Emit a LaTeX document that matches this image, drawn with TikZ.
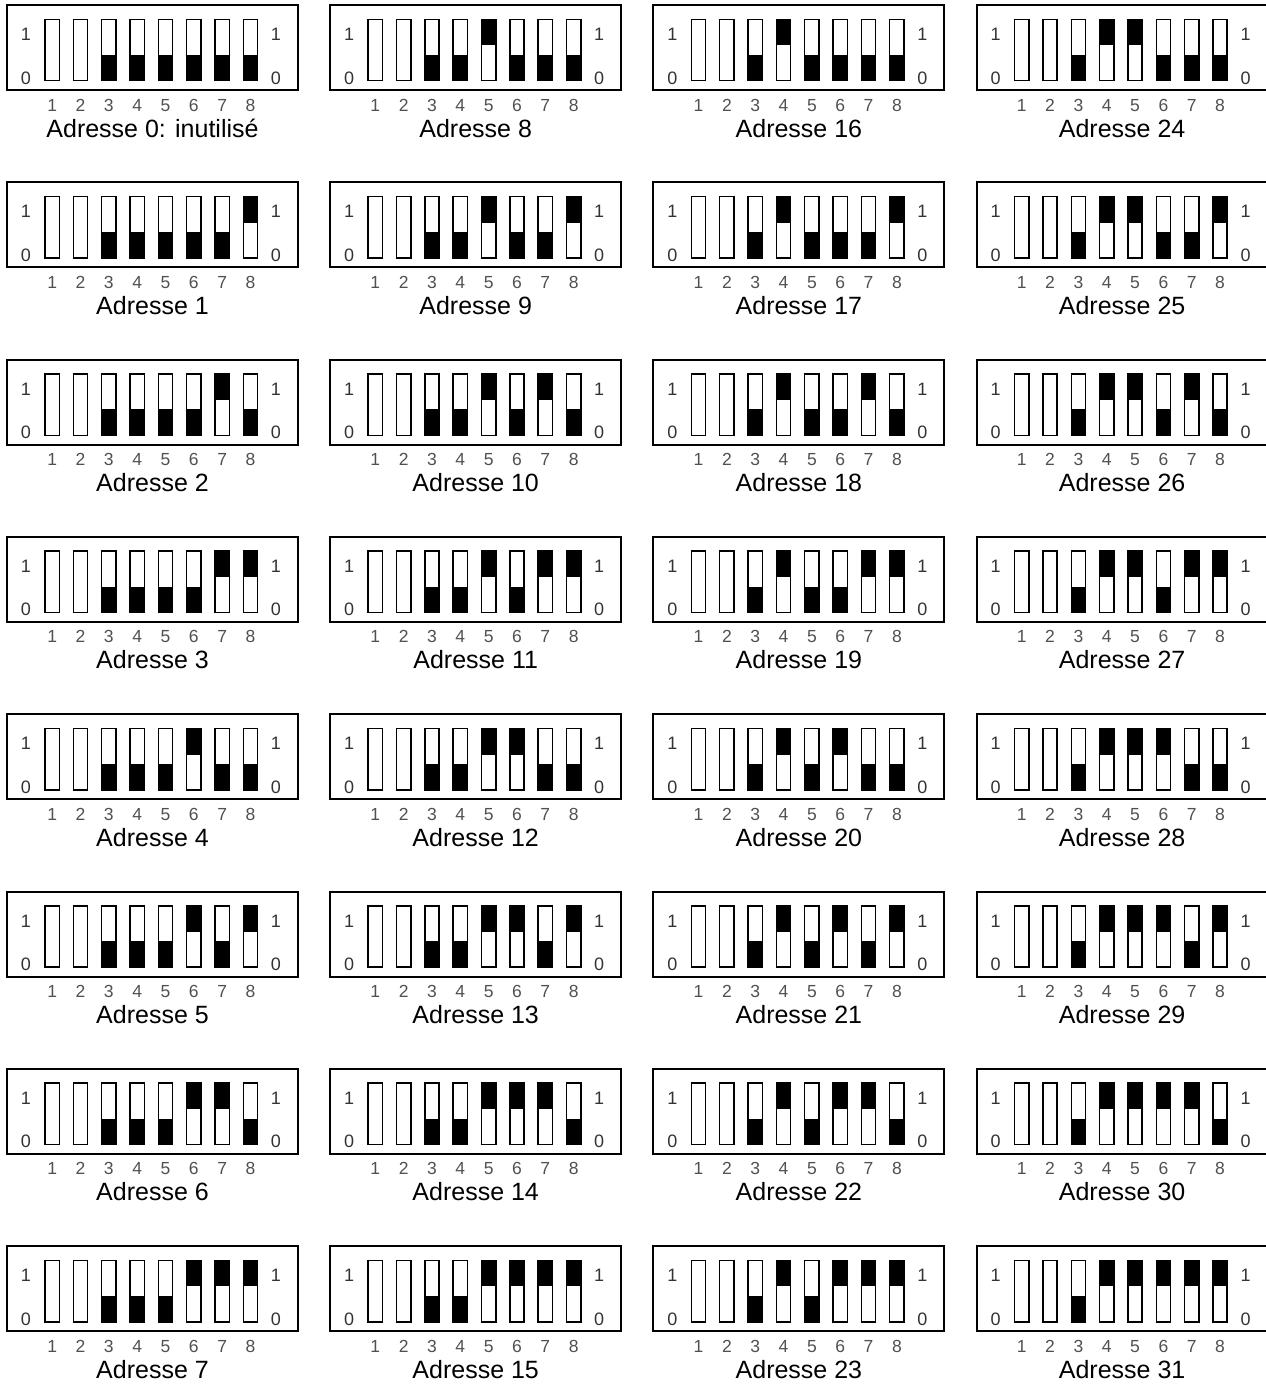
\documentclass[tikz,border=0pt]{standalone}
\usepackage{fontspec}
\setmainfont{Liberation Sans}
\usetikzlibrary{calc}
\definecolor{numgray}{RGB}{80,80,80}

\tikzset{
  dipbox/.style={draw, line width=2pt},
  lever/.style={draw, line width=1.5pt},
  knob/.style={fill=black},
  sidelbl/.style={font=\fontsize{18}{18}\selectfont, text=black!80, inner sep=0pt, anchor=base},
  numlbl/.style={font=\fontsize{17.5}{17.5}\selectfont, text=numgray, inner sep=0pt, anchor=base},
  addrlbl/.style={font=\fontsize{25}{25}\selectfont, inner sep=0pt, anchor=base}
}

\begin{document}
\begin{tikzpicture}[x=1pt,y=-1pt]
  \useasboundingbox (0,0) rectangle (1266,1387);
  \foreach \a in {0,...,31}{
    \pgfmathtruncatemacro{\col}{int(\a/8)}
    \pgfmathtruncatemacro{\row}{mod(\a,8)}
    \pgfmathsetmacro{\bx}{7+323.2*\col}
    \pgfmathsetmacro{\by}{5+177.3*\row}
    \begin{scope}[shift={(\bx,\by)}]
      \draw[dipbox] (0,0) rectangle (291,85);
      \node[sidelbl] (lone\a) at (19,35.5) {1};
      \node[sidelbl] (lzero\a) at (19,79) {0};
      \node[sidelbl] (rone\a) at (269,35.5) {1};
      \node[sidelbl] (rzero\a) at (269,79) {0};
      \foreach \k in {1,...,8}{
        \pgfmathsetmacro{\sx}{38+28.33*(\k-1)}
        % switch 3 always off, 4..8 carry the address bits
        \ifnum\k>2
          \pgfmathtruncatemacro{\bit}{\k<4 ? 0 : mod(floor(\a/2^(8-\k)),2)}
          \ifnum\bit=1
            \fill[knob] (\sx,14.3) rectangle ++(14.3,26);
          \else
            \fill[knob] (\sx,75.7) rectangle ++(14.3,-26);
          \fi
        \fi
        \draw[lever] (\sx,14.3) rectangle ++(14.3,61.4);
        \node[numlbl] (n\a-\k) at (\sx+7.15,106) {\k};
      }
      \node[addrlbl] (addr\a) at (145.5,132)
        {Adresse \a\ifnum\a=0: inutilisé\fi};
    \end{scope}
  }
\end{tikzpicture}
\end{document}
